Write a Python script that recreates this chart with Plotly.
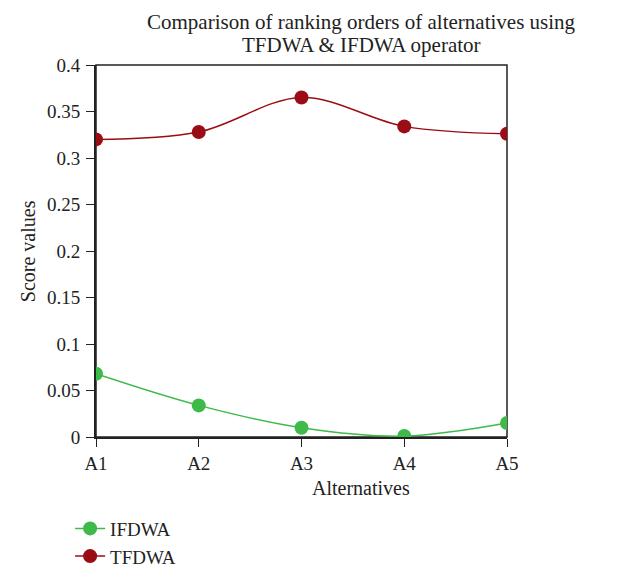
import plotly.graph_objects as go

alternatives = ['A1', 'A2', 'A3', 'A4', 'A5']
ifdwa = [0.068, 0.034, 0.010, 0.001, 0.015]
tfdwa = [0.320, 0.328, 0.365, 0.334, 0.326]

titulo = ['Comparison of ranking orders of alternatives using', 'TFDWA & IFDWA operator']

fuente = 'Liberation Serif, DejaVu Serif, serif'

fig = go.Figure()
fig.add_trace(go.Scatter(x=alternatives, y=ifdwa, name='IFDWA', mode='lines+markers',
                         line=dict(color='#3dba4a', width=1.5, shape='spline'),
                         marker=dict(color='#3dba4a', size=14)))
fig.add_trace(go.Scatter(x=alternatives, y=tfdwa, name='TFDWA', mode='lines+markers',
                         line=dict(color='#9b0d14', width=1.5, shape='spline'),
                         marker=dict(color='#9b0d14', size=14)))

# título en dos líneas como anotaciones para controlar el interlineado
notas = []
for texto, yy in zip(titulo, [1.1156, 1.0538]):
    notas.append(dict(text=texto, x=0.645, y=yy, xref='paper', yref='paper',
                      xanchor='center', yanchor='middle', showarrow=False,
                      font=dict(size=21)))
notas.append(dict(text='Alternatives', x=0.645, y=-0.137, xref='paper', yref='paper',
                  xanchor='center', yanchor='middle', showarrow=False,
                  font=dict(size=20)))
notas.append(dict(text='Score values', x=-0.165, y=0.5, xref='paper', yref='paper',
                  xanchor='center', yanchor='middle', showarrow=False, textangle=-90,
                  font=dict(size=20)))

# la página tiene un margen de 8 px, así que la figura es algo más pequeña
fig.update_layout(
    width=635, height=559,
    margin=dict(l=88, r=136, t=57, b=130, autoexpand=False),
    paper_bgcolor='white', plot_bgcolor='white',
    font=dict(family=fuente, size=19, color='#222'),
    xaxis=dict(range=[0, 4], type='category', automargin=False,
               tickfont=dict(size=19),
               showline=True, linecolor='#222', linewidth=2,
               ticks='outside', ticklen=8, tickcolor='#222',
               showgrid=False, zeroline=False),
    yaxis=dict(range=[0, 0.4], automargin=False, tickfont=dict(size=19),
               ticklabelstandoff=2,
               dtick=0.05, tickformat='~g', showline=True, linecolor='#222', linewidth=2,
               ticks='outside', ticklen=8, tickcolor='#222',
               showgrid=False, zeroline=False),
    legend=dict(x=-0.063, y=-0.195, xanchor='left', yanchor='top', orientation='v',
                font=dict(size=19), bgcolor='rgba(0,0,0,0)'),
    shapes=[dict(type='rect', xref='paper', yref='paper', x0=0, x1=1, y0=0, y1=1,
                 line=dict(color='#222', width=1.5), layer='below')],
    annotations=notas,
)

fig.write_html('out.html')
